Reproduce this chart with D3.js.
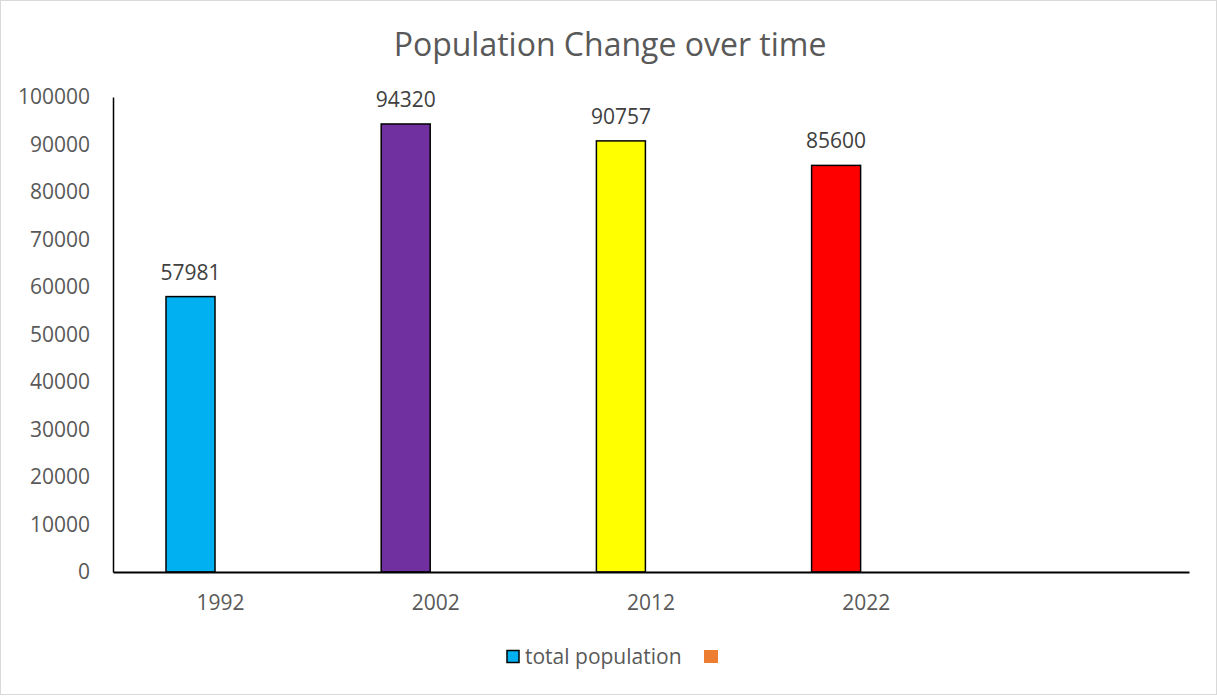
<!DOCTYPE html>
<html>
<head>
<meta charset="utf-8">
<script src="https://cdn.jsdelivr.net/npm/d3@7"></script>
<style>
  html, body { margin: 0; padding: 0; background: #fff; }
  svg { display: block; font-family: "Open Sans", "Liberation Sans", sans-serif; }
</style>
</head>
<body>
<svg id="chart" width="1217" height="696"></svg>
<script>
// Chart data
const categories = ["1992", "2002", "2012", "2022", ""];
const seriesNames = ["total population", ""];
const totalPopulation = [57981, 94320, 90757, 85600, null];
const barColors = ["#00B0F0", "#7030A0", "#FFFF00", "#FF0000"];
const seriesColors = ["#00B0F0", "#ED7D31"];
const yTicks = [0, 10000, 20000, 30000, 40000, 50000, 60000, 70000, 80000, 90000, 100000];

const W = 1217, H = 696;
const plot = { left: 113, right: 1189, top: 97, bottom: 572 };

const svg = d3.select("#chart");

// outer frame
svg.append("rect")
  .attr("x", 0.5).attr("y", 0.5)
  .attr("width", W - 1).attr("height", H - 2)
  .attr("fill", "#fff").attr("stroke", "#d9d9d9").attr("stroke-width", 1);

// title
svg.append("text")
  .attr("x", 610).attr("y", 56)
  .attr("text-anchor", "middle")
  .attr("font-size", 32)
  .attr("fill", "#595959")
  .text("Population Change over time");

const x = d3.scaleBand()
  .domain(categories)
  .range([plot.left, plot.right])
  .paddingInner(0).paddingOuter(0);

// series positions within each category slot
const xs = d3.scaleBand()
  .domain(seriesNames.map((d, i) => i))
  .range([53, 151]);

const y = d3.scaleLinear()
  .domain([0, 100000])
  .range([plot.bottom, plot.top]);

// y axis
const yAxis = svg.append("g")
  .attr("transform", `translate(${plot.left},0)`)
  .call(d3.axisLeft(y).tickValues(yTicks).tickSize(0).tickPadding(23).tickFormat(d3.format("d")));
yAxis.select(".domain").attr("stroke", "#000").attr("stroke-width", 1.5);
yAxis.selectAll("text")
  .attr("font-size", 21)
  .attr("fill", "#595959")
  .attr("font-family", "\"Open Sans\", sans-serif");

// bars
const bars = categories.map((c, i) => ({ cat: c, value: totalPopulation[i], color: barColors[i] }))
  .filter(d => d.value != null);

svg.append("g").selectAll("rect")
  .data(bars)
  .join("rect")
  .attr("x", d => x(d.cat) + xs(0))
  .attr("width", xs.bandwidth())
  .attr("y", d => y(d.value))
  .attr("height", d => y(0) - y(d.value))
  .attr("fill", d => d.color)
  .attr("stroke", "#000")
  .attr("stroke-width", 1.5);

// data labels
svg.append("g").selectAll("text")
  .data(bars)
  .join("text")
  .attr("x", d => x(d.cat) + xs(0) + xs.bandwidth() / 2)
  .attr("y", d => y(d.value) - 17)
  .attr("text-anchor", "middle")
  .attr("font-size", 21)
  .attr("fill", "#404040")
  .text(d => d.value);

// x axis
const xAxis = svg.append("g")
  .attr("transform", `translate(0,${plot.bottom})`)
  .call(d3.axisBottom(x).tickSize(0).tickPadding(23));
xAxis.select(".domain").attr("stroke", "#000").attr("stroke-width", 2);
xAxis.selectAll("text")
  .attr("font-size", 21)
  .attr("fill", "#595959")
  .attr("font-family", "\"Open Sans\", sans-serif");

// legend
const legend = svg.append("g");
legend.append("rect")
  .attr("x", 507).attr("y", 650.5).attr("width", 12).attr("height", 12)
  .attr("fill", seriesColors[0]).attr("stroke", "#000").attr("stroke-width", 1.5);
legend.append("text")
  .attr("x", 525).attr("y", 664)
  .attr("font-size", 21).attr("fill", "#595959")
  .text(seriesNames[0]);
legend.append("rect")
  .attr("x", 704).attr("y", 650).attr("width", 14).attr("height", 13)
  .attr("fill", seriesColors[1]);
</script>
</body>
</html>
